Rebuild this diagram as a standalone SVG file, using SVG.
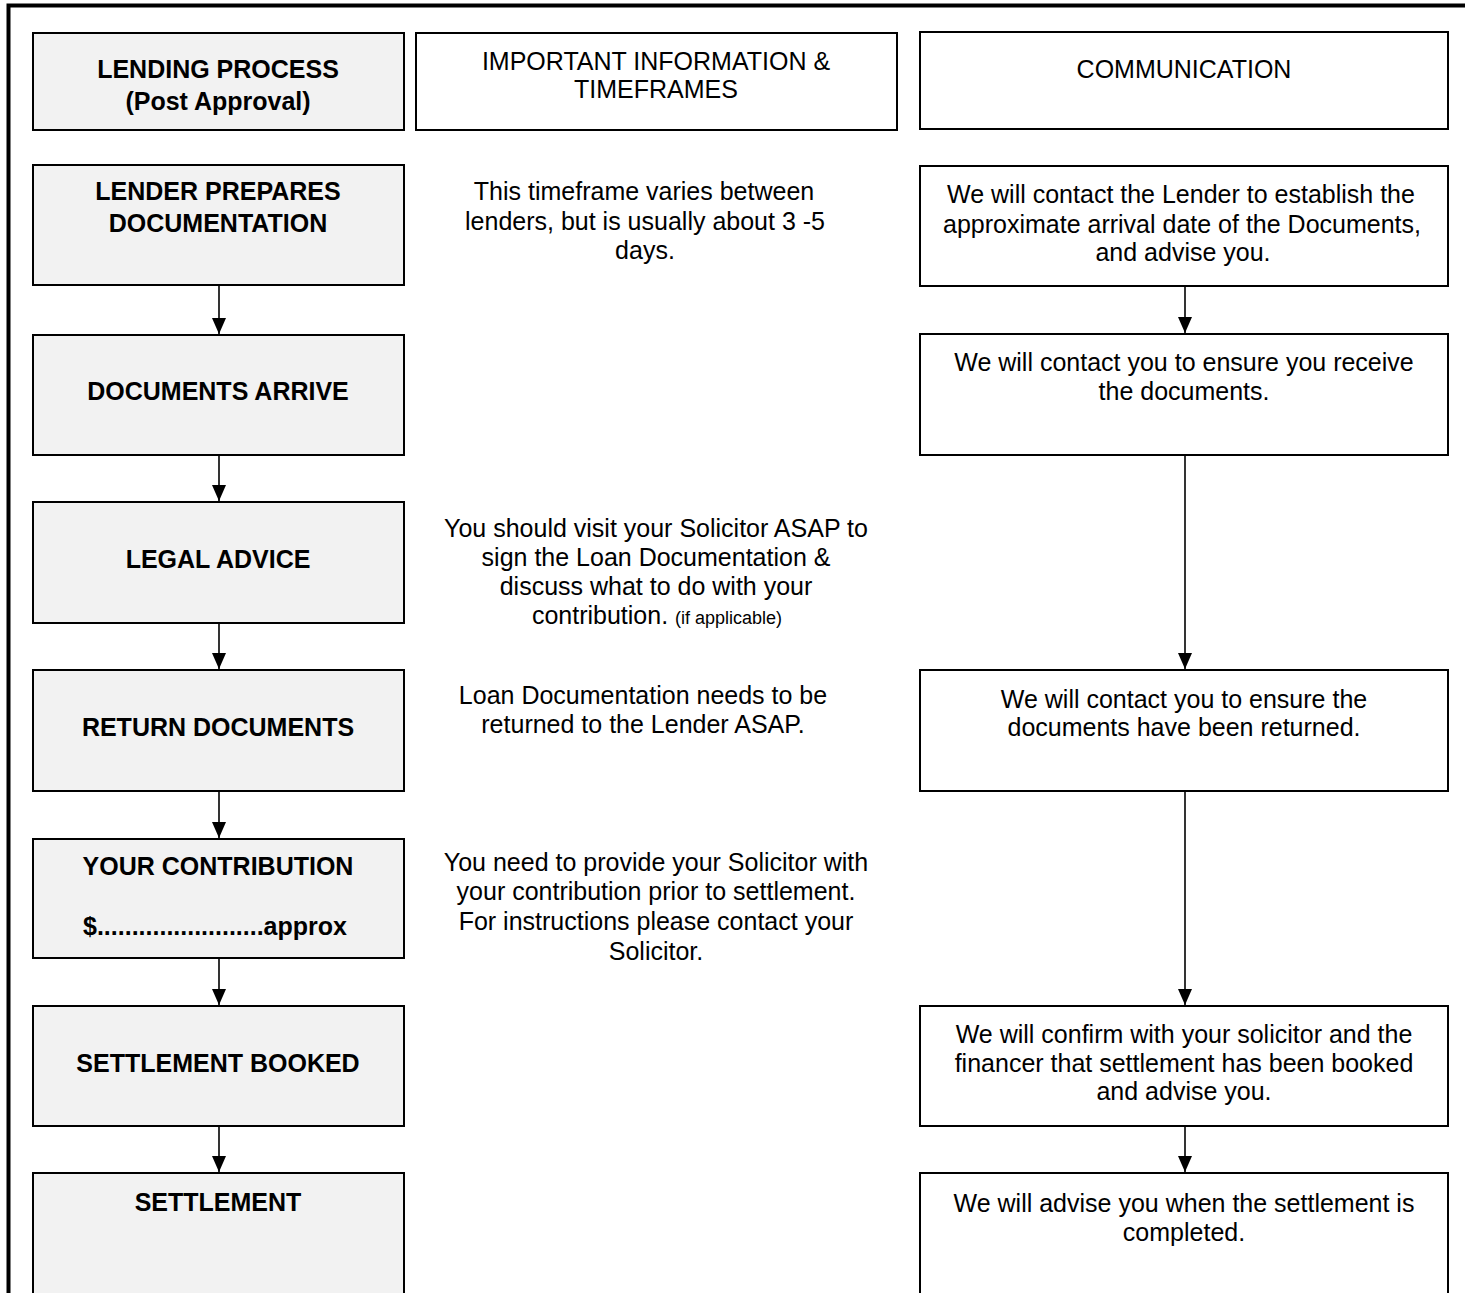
<svg xmlns="http://www.w3.org/2000/svg" width="1465" height="1293" viewBox="0 0 1465 1293">
<defs>
<style>
.box{stroke:#000;stroke-width:2}
.g{fill:#f2f2f2}
.w{fill:#fff}
text{font-family:"Liberation Sans",Arial,sans-serif;font-size:25px;fill:#000;text-anchor:middle}
.b{font-weight:bold}
.conn line{stroke:#000;stroke-width:1.6}
</style>
<marker id="ah" markerUnits="userSpaceOnUse" markerWidth="16" markerHeight="14" refX="16" refY="7" orient="auto" viewBox="0 0 16 14">
<path d="M0,0 L16,7 L0,14 z" fill="#000"/>
</marker>
</defs>
<rect width="1465" height="1293" fill="#fff"/>
<path d="M8.5,1300 V5.5 H1465" fill="none" stroke="#000" stroke-width="4"/>

<g id="hdr-process"><rect class="box g" x="33" y="33" width="371" height="97"/>
<text class="b" x="218" y="78">LENDING PROCESS</text><text class="b" x="218" y="110">(Post Approval)</text></g>
<g id="hdr-info"><rect class="box w" x="416" y="33" width="481" height="97"/>
<text x="656" y="70">IMPORTANT INFORMATION &amp;</text><text x="656" y="98">TIMEFRAMES</text></g>
<g id="hdr-comm"><rect class="box w" x="920" y="32" width="528" height="97"/>
<text x="1184" y="78">COMMUNICATION</text></g>

<g id="n1"><rect class="box g" x="33" y="165" width="371" height="120"/>
<text class="b" x="218" y="200">LENDER PREPARES</text><text class="b" x="218" y="232">DOCUMENTATION</text></g>
<g id="i1"><text x="644" y="200">This timeframe varies between</text><text x="645" y="230">lenders, but is usually about 3 -5</text><text x="645" y="259">days.</text></g>
<g id="c1"><rect class="box w" x="920" y="166" width="528" height="120"/>
<text x="1181" y="203">We will contact the Lender to establish the</text><text x="1182" y="233">approximate arrival date of the Documents,</text><text x="1183" y="261">and advise you.</text></g>

<g id="n2"><rect class="box g" x="33" y="335" width="371" height="120"/>
<text class="b" x="218" y="400">DOCUMENTS ARRIVE</text></g>
<g id="c2"><rect class="box w" x="920" y="334" width="528" height="121"/>
<text x="1184" y="371">We will contact you to ensure you receive</text><text x="1184" y="400">the documents.</text></g>

<g id="n3"><rect class="box g" x="33" y="502" width="371" height="121"/>
<text class="b" x="218" y="568">LEGAL ADVICE</text></g>
<g id="i3"><text x="656" y="537">You should visit your Solicitor ASAP to</text><text x="656" y="566">sign the Loan Documentation &amp;</text><text x="656" y="595">discuss what to do with your</text><text x="657" y="624">contribution.  <tspan font-size="18">(if applicable)</tspan></text></g>

<g id="n4"><rect class="box g" x="33" y="670" width="371" height="121"/>
<text class="b" x="218" y="736">RETURN DOCUMENTS</text></g>
<g id="i4"><text x="643" y="704">Loan Documentation needs to be</text><text x="643" y="733">returned to the Lender ASAP.</text></g>
<g id="c4"><rect class="box w" x="920" y="670" width="528" height="121"/>
<text x="1184" y="708">We will contact you to ensure the</text><text x="1184" y="736">documents have been returned.</text></g>

<g id="n5"><rect class="box g" x="33" y="839" width="371" height="119"/>
<text class="b" x="218" y="875">YOUR CONTRIBUTION</text><text class="b" x="215" y="935">$........................approx</text></g>
<g id="i5"><text x="656" y="871">You need to provide your Solicitor with</text><text x="656" y="900">your contribution prior to settlement.</text><text x="656" y="930">For instructions please contact your</text><text x="656" y="960">Solicitor.</text></g>

<g id="n6"><rect class="box g" x="33" y="1006" width="371" height="120"/>
<text class="b" x="218" y="1072">SETTLEMENT BOOKED</text></g>
<g id="c6"><rect class="box w" x="920" y="1006" width="528" height="120"/>
<text x="1184" y="1043">We will confirm with your solicitor and the</text><text x="1184" y="1072">financer that settlement has been booked</text><text x="1184" y="1100">and advise you.</text></g>

<g id="n7"><rect class="box g" x="33" y="1173" width="371" height="140"/>
<text class="b" x="218" y="1211">SETTLEMENT</text></g>
<g id="c7"><rect class="box w" x="920" y="1173" width="528" height="140"/>
<text x="1184" y="1212">We will advise you when the settlement is</text><text x="1184" y="1241">completed.</text></g>

<g class="conn" id="connectors">
<line x1="219" y1="286" x2="219" y2="334" marker-end="url(#ah)"/>
<line x1="219" y1="456" x2="219" y2="501" marker-end="url(#ah)"/>
<line x1="219" y1="624" x2="219" y2="669" marker-end="url(#ah)"/>
<line x1="219" y1="792" x2="219" y2="838" marker-end="url(#ah)"/>
<line x1="219" y1="959" x2="219" y2="1005" marker-end="url(#ah)"/>
<line x1="219" y1="1127" x2="219" y2="1172" marker-end="url(#ah)"/>
<line x1="1185" y1="287" x2="1185" y2="333" marker-end="url(#ah)"/>
<line x1="1185" y1="456" x2="1185" y2="669" marker-end="url(#ah)"/>
<line x1="1185" y1="792" x2="1185" y2="1005" marker-end="url(#ah)"/>
<line x1="1185" y1="1127" x2="1185" y2="1172" marker-end="url(#ah)"/>
</g>
</svg>
